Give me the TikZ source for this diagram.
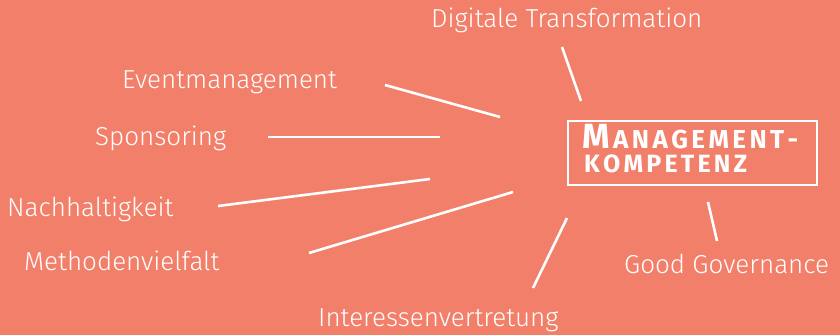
\documentclass[tikz,border=0pt]{standalone}
\usepackage{fontspec}
\setmainfont{Fira Sans Light}
\newfontfamily\titlefont{Fira Sans Bold}
\definecolor{bgsalmon}{RGB}{242,127,106}
\begin{document}
\begin{tikzpicture}[x=1pt,y=-1pt,
  lbl/.style={anchor=base west, inner sep=0pt, text=white, font=\fontsize{26}{26}\selectfont},
  spoke/.style={draw=white, line width=2.6pt},
  titlebox/.style={draw=white, line width=2.4pt}]
\fill[bgsalmon] (0,0) rectangle (840,335);
\useasboundingbox (0,0) rectangle (840,335);
% labels
\node[lbl] (dig) at (431,27) {Digitale Transformation};
\node[lbl] (evt) at (122,88) {Eventmanagement};
\node[lbl] (spo) at (95,145) {Sponsoring};
\node[lbl] (nac) at (7,216) {Nachhaltigkeit};
\node[lbl] (met) at (24,270) {Methodenvielfalt};
\node[lbl] (int) at (318,326) {Interessenvertretung};
\node[lbl] (gov) at (624,273) {Good Governance};
% title box
\draw[titlebox] (568,121) rectangle (817,185);
\node[anchor=base west, inner sep=0pt, text=white] (t1) at (582,148)
  {\titlefont\makebox[216pt][s]{\fontsize{35}{35}\selectfont M\hfill\fontsize{26}{26}\selectfont A\hfill N\hfill A\hfill G\hfill E\hfill M\hfill E\hfill N\hfill T\hfill -}};
\node[anchor=base west, inner sep=0pt, text=white] (t2) at (584,172)
  {\titlefont\fontsize{25}{25}\selectfont\makebox[163pt][s]{K\hfill O\hfill M\hfill P\hfill E\hfill T\hfill E\hfill N\hfill Z}};
% spoke ends
\coordinate (d1) at (562,47);  \coordinate (d2) at (581,101);
\coordinate (e1) at (385,85);  \coordinate (e2) at (500,117);
\coordinate (s1) at (268,137); \coordinate (s2) at (440,137);
\coordinate (n1) at (218,206); \coordinate (n2) at (430,179);
\coordinate (m1) at (309,253); \coordinate (m2) at (513,192);
\coordinate (i1) at (533,288); \coordinate (i2) at (567,218);
\coordinate (g1) at (708,202); \coordinate (g2) at (717,241);
\draw[spoke] (d1) -- (d2);
\draw[spoke] (e1) -- (e2);
\draw[spoke] (s1) -- (s2);
\draw[spoke] (n1) -- (n2);
\draw[spoke] (m1) -- (m2);
\draw[spoke] (i1) -- (i2);
\draw[spoke] (g1) -- (g2);
\end{tikzpicture}
\end{document}
